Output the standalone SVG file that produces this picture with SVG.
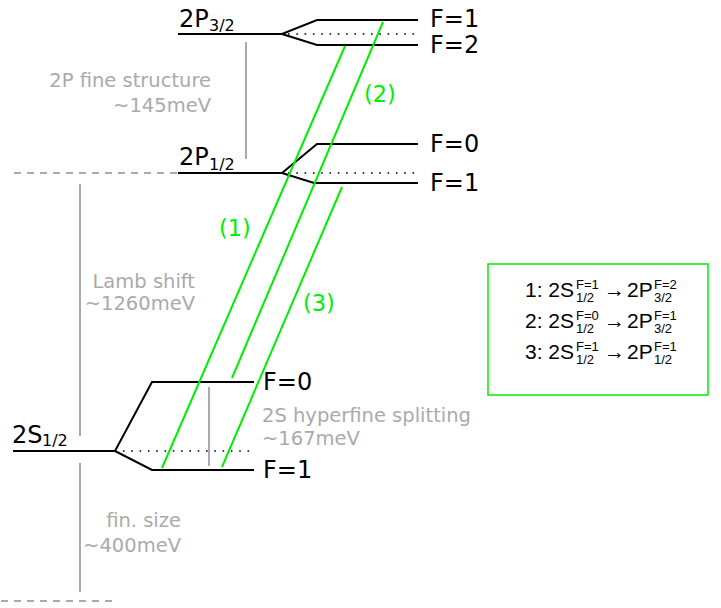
<svg xmlns="http://www.w3.org/2000/svg" width="721" height="608" viewBox="0 0 721 608">
<style>
.lvl{fill:none;stroke:#000;stroke-width:2}
.dot{fill:none;stroke:#000;stroke-width:1.6;stroke-dasharray:1.6 6.7}
.gl{fill:none;stroke:#aaa;stroke-width:2}
.gd{fill:none;stroke:#aaa;stroke-width:2;stroke-dasharray:7 6}
.tr{fill:none;stroke:#00ee00;stroke-width:2}
.lab{font-family:"DejaVu Sans",sans-serif;font-size:24px;fill:#000}
.sub{font-family:"DejaVu Sans",sans-serif;font-size:16px;fill:#000}
.gt{font-family:"DejaVu Sans",sans-serif;font-size:19.5px;fill:#aaa}
.gn{font-family:"DejaVu Sans",sans-serif;font-size:22.5px;fill:#00ee00}
.lg{font-family:"Liberation Sans",Arial,sans-serif;font-size:21px;fill:#000}
.ls{font-family:"Liberation Sans",Arial,sans-serif;font-size:13px;fill:#000}
</style>
<rect width="721" height="608" fill="#fff"/>
<g id="guides">
<line class="gd" x1="14" y1="173" x2="177" y2="173"/>
<line class="gd" x1="1" y1="601" x2="112" y2="601"/>
<line class="gl" x1="246" y1="42" x2="246" y2="159"/>
<line class="gl" x1="80" y1="184" x2="80" y2="436"/>
<line class="gl" x1="80" y1="463" x2="80" y2="592"/>
<line class="gl" x1="209" y1="387" x2="209" y2="466"/>
<text class="gt" x="211" y="87" text-anchor="end">2P fine structure</text>
<text class="gt" x="211" y="112" text-anchor="end">~145meV</text>
<text class="gt" x="195" y="288" text-anchor="end">Lamb shift</text>
<text class="gt" x="195" y="310" text-anchor="end">~1260meV</text>
<text class="gt" x="262" y="422">2S hyperfine splitting</text>
<text class="gt" x="262" y="445">~167meV</text>
<text class="gt" x="181" y="527" text-anchor="end">fin. size</text>
<text class="gt" x="181" y="552" text-anchor="end">~400meV</text>
</g>
<g id="level-2P32">
<path class="lvl" d="M178 34H282L317 20H418M282 34L317 45H418"/>
<line class="dot" x1="288" y1="34" x2="418" y2="34"/>
<text class="lab" x="179" y="27">2P<tspan class="sub" x="209" y="31">3/2</tspan></text>
<text class="lab" x="430" y="27">F=1</text>
<text class="lab" x="430" y="53">F=2</text>
</g>
<g id="level-2P12">
<path class="lvl" d="M178 173H282L317 144H418M282 173L314 183H418"/>
<line class="dot" x1="288" y1="173" x2="418" y2="173"/>
<text class="lab" x="179" y="165">2P<tspan class="sub" x="209" y="170">1/2</tspan></text>
<text class="lab" x="430" y="152">F=0</text>
<text class="lab" x="430" y="191">F=1</text>
</g>
<g id="level-2S12">
<path class="lvl" d="M13 451H115L152 382H254M115 451L152 470H254"/>
<line class="dot" x1="123" y1="451" x2="254" y2="451"/>
<text class="lab" x="12" y="443">2S<tspan class="sub" x="42" y="446">1/2</tspan></text>
<text class="lab" x="263" y="390">F=0</text>
<text class="lab" x="263" y="478">F=1</text>
</g>
<g id="connectors">
<line class="tr" x1="162" y1="468" x2="345" y2="46"/>
<line class="tr" x1="232" y1="378" x2="383" y2="22"/>
<line class="tr" x1="222" y1="467" x2="342" y2="187"/>
<text class="gn" x="219" y="236">(1)</text>
<text class="gn" x="364" y="102">(2)</text>
<text class="gn" x="303" y="311">(3)</text>
</g>
<g id="legend">
<rect x="488" y="264" width="220" height="131" fill="none" stroke="#00ee00" stroke-width="1.5"/>
<text class="lg" x="525" y="297">1: 2S</text><text class="ls" x="576" y="289">F=1</text><text class="ls" x="576" y="302">1/2</text>
<text class="lg" x="604" y="297">→</text>
<text class="lg" x="627" y="297">2P</text><text class="ls" x="654" y="289">F=2</text><text class="ls" x="654" y="302">3/2</text>
<text class="lg" x="525" y="328">2: 2S</text><text class="ls" x="576" y="320">F=0</text><text class="ls" x="576" y="333">1/2</text>
<text class="lg" x="604" y="328">→</text>
<text class="lg" x="627" y="328">2P</text><text class="ls" x="654" y="320">F=1</text><text class="ls" x="654" y="333">3/2</text>
<text class="lg" x="525" y="359">3: 2S</text><text class="ls" x="576" y="351">F=1</text><text class="ls" x="576" y="364">1/2</text>
<text class="lg" x="604" y="359">→</text>
<text class="lg" x="627" y="359">2P</text><text class="ls" x="654" y="351">F=1</text><text class="ls" x="654" y="364">1/2</text>
</g>
</svg>
